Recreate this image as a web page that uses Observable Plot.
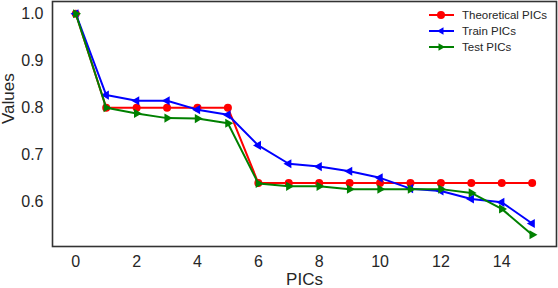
<!DOCTYPE html>
<html>
<head>
<meta charset="utf-8">
<script src="https://cdn.jsdelivr.net/npm/d3@7"></script>
<script src="https://cdn.jsdelivr.net/npm/@observablehq/plot@0.6"></script>
<style>
  html, body { margin: 0; padding: 0; background: #fff; }
  #wrap { position: relative; width: 558px; height: 288px; font-family: "Liberation Sans", Arial, sans-serif; }
  #legend { position: absolute; left: 429px; top: 7px; font-size: 11.5px; color: #262626; }
  #legend .row { display: flex; align-items: center; height: 16px; }
  #legend svg { margin-right: 8px; }
</style>
</head>
<body>
<div id="wrap"><div id="legend"></div></div>
<script>
const pics = [0, 1, 2, 3, 4, 5, 6, 7, 8, 9, 10, 11, 12, 13, 14, 15];
const theoretical = [1.0, 0.8, 0.8, 0.8, 0.8, 0.8, 0.64, 0.64, 0.64, 0.64, 0.64, 0.64, 0.64, 0.64, 0.64, 0.64];
const train = [1.0, 0.827, 0.815, 0.815, 0.796, 0.785, 0.72, 0.681, 0.675, 0.665, 0.651, 0.628, 0.623, 0.606, 0.599, 0.554];
const test = [1.0, 0.8, 0.788, 0.778, 0.777, 0.767, 0.639, 0.633, 0.633, 0.627, 0.627, 0.627, 0.627, 0.619, 0.585, 0.53];
const seriesNames = ["Theoretical PICs", "Train PICs", "Test PICs"];
const seriesColors = ["#ff0000", "#0000ff", "#008000"];
const xTicks = [0, 2, 4, 6, 8, 10, 12, 14];
const yTicks = [0.6, 0.7, 0.8, 0.9, 1.0];
const xLabel = "PICs";
const yLabel = "Values";

const rows = (vals, s) => pics.map((p, i) => ({x: p, y: vals[i], s}));
const th = rows(theoretical, seriesNames[0]);
const tr = rows(train, seriesNames[1]);
const te = rows(test, seriesNames[2]);

const font = "'Liberation Sans', Arial, sans-serif";
const ink = "#262626";
const chart = Plot.plot({
  width: 558,
  height: 288,
  marginLeft: 52,
  marginRight: 2,
  marginTop: 1,
  marginBottom: 42,
  style: {fontFamily: font, fontSize: "16px", color: ink, background: "#fff"},
  x: {domain: [-0.765, 15.8]},
  y: {domain: [0.505, 1.026]},
  marks: [
    Plot.axisX({ticks: xTicks, tickSize: 0, tickPadding: 9, label: null, tickFormat: d => String(d), fill: ink}),
    Plot.axisY({ticks: yTicks, tickSize: 0, tickPadding: 9, label: null, tickFormat: d3.format(".1f"), fill: ink}),
    Plot.text([xLabel], {text: d => d, frameAnchor: "bottom", lineAnchor: "middle", dy: 33, fontSize: 17, fill: ink}),
    Plot.text([yLabel], {text: d => d, frameAnchor: "left", dx: -44, rotate: -90, fontSize: 17, fill: ink}),
    Plot.line(th, {x: "x", y: "y", stroke: seriesColors[0], strokeWidth: 2}),
    Plot.dot(th, {x: "x", y: "y", fill: seriesColors[0], r: 4, symbol: "circle"}),
    Plot.line(tr, {x: "x", y: "y", stroke: seriesColors[1], strokeWidth: 2}),
    Plot.dot(tr, {x: "x", y: "y", fill: seriesColors[1], r: 3.4, symbol: "triangle", rotate: -90}),
    Plot.line(te, {x: "x", y: "y", stroke: seriesColors[2], strokeWidth: 2}),
    Plot.dot(te, {x: "x", y: "y", fill: seriesColors[2], r: 3.4, symbol: "triangle", rotate: 90}),
    Plot.frame({stroke: "#333", strokeWidth: 1.6})
  ]
});
document.getElementById("wrap").prepend(chart);
chart.style.position = "absolute";
chart.style.left = "0";
chart.style.top = "0";

const legend = document.getElementById("legend");
const shapes = ["circle", "left", "right"];
seriesNames.forEach((name, i) => {
  const row = document.createElement("div");
  row.className = "row";
  let m;
  if (shapes[i] === "circle") m = `<circle cx="12" cy="7" r="4" fill="${seriesColors[i]}"/>`;
  else if (shapes[i] === "left") m = `<path d="M8,7 L14.5,3.2 L14.5,10.8 Z" fill="${seriesColors[i]}"/>`;
  else m = `<path d="M16,7 L9.5,3.2 L9.5,10.8 Z" fill="${seriesColors[i]}"/>`;
  row.innerHTML = `<svg width="25" height="14"><line x1="0" x2="25" y1="7" y2="7" stroke="${seriesColors[i]}" stroke-width="2"/>${m}</svg><span>${name}</span>`;
  legend.appendChild(row);
});
</script>
</body>
</html>
